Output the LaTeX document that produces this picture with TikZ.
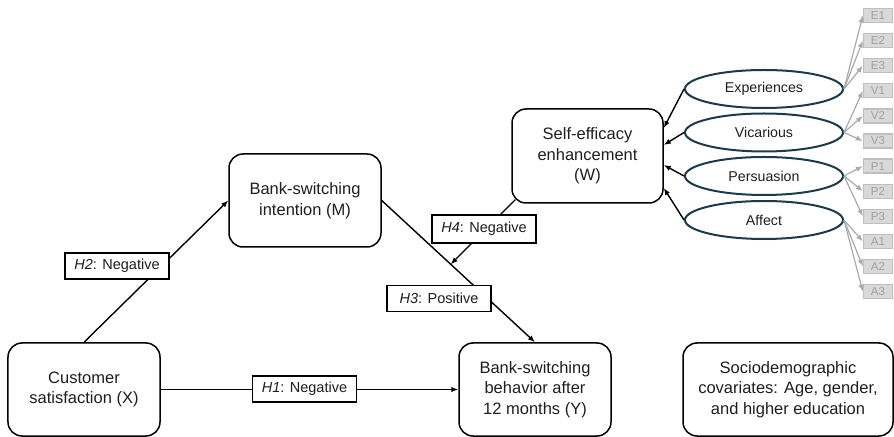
\documentclass[tikz,border=0pt]{standalone}
\usepackage{fontspec}
\setmainfont{Liberation Sans}
\usetikzlibrary{arrows.meta,shapes.geometric,calc}
\definecolor{ellc}{RGB}{27,58,75}
\definecolor{indfill}{RGB}{217,217,217}
\definecolor{inddraw}{RGB}{191,191,191}
\definecolor{indtext}{RGB}{160,160,160}
\definecolor{indarrow}{RGB}{170,170,170}
\definecolor{txt}{RGB}{30,30,30}
\begin{document}
\begin{tikzpicture}[x=1bp,y=-1bp,
  mainbox/.style={draw, line width=1.5bp, rounded corners=14bp, minimum width=152bp, minimum height=93bp, align=center, text=txt, font=\fontsize{16.5bp}{20.5bp}\selectfont, inner sep=2bp},
  hyp/.style={draw, fill=white, line width=1.3bp, minimum width=104bp, minimum height=26bp, inner sep=1bp, text=txt, font=\fontsize{14.5bp}{16bp}\selectfont},
  lat/.style={ellipse, draw=ellc, line width=2bp, minimum width=158bp, minimum height=38bp, inner sep=0pt, text=txt, font=\fontsize{14.2bp}{16bp}\selectfont},
  ind/.style={draw=inddraw, fill=indfill, line width=1.3bp, minimum width=29bp, minimum height=14bp, inner sep=0pt, text=indtext, font=\fontsize{11.5bp}{12bp}\selectfont},
  arr/.style={-{Latex[length=7bp,width=5.5bp]}, line width=1.4bp},
  garr/.style={-{Latex[length=7bp,width=5.5bp]}, line width=1.2bp, draw=indarrow, color=indarrow},
]
\useasboundingbox (0,0) rectangle (894,437);

% main boxes
\node[mainbox] (X) at (84,389.5) {Customer\\satisfaction (X)};
\node[mainbox] (M) at (305,200.5) {Bank-switching\\intention (M)};
\node[mainbox] (Y) at (535,389.5) {Bank-switching\\behavior after\\12 months (Y)};
\node[mainbox, minimum width=151bp, minimum height=94bp] (W) at (587.5,156) {Self-efficacy\\enhancement\\(W)};
\node[mainbox, minimum width=210bp] (S) at (788,389.5) {Sociodemographic\\covariates: Age, gender,\\and higher education};

% latent ellipses
\node[lat] (Exp) at (764,89) {Experiences};
\node[lat] (Vic) at (764,132.5) {Vicarious};
\node[lat] (Per) at (764,176) {Persuasion};
\node[lat] (Aff) at (764,220) {Affect};

% indicators
\foreach \n [count=\i from 0] in {E1,E2,E3,V1,V2,V3,P1,P2,P3,A1,A2,A3}
  \node[ind] (\n) at (878,15.5+25.1*\i) {\n};

\foreach \n in {E1,E2,E3} \draw[garr] (Exp.east) -- (\n.west);
\foreach \n in {V1,V2,V3} \draw[garr] (Vic.east) -- (\n.west);
\foreach \n in {P1,P2,P3} \draw[garr] (Per.east) -- (\n.west);
\foreach \n in {A1,A2,A3} \draw[garr] (Aff.east) -- (\n.west);

% latent -> W
\draw[arr] (Exp.west) -- ($(W.east)+(0,-28)$);
\draw[arr] (Vic.west) -- ($(W.east)+(0,-11)$);
\draw[arr] (Per.west) -- ($(W.east)+(0,9)$);
\draw[arr] (Aff.west) -- ($(W.east)+(0,32)$);

% structural paths
\draw[arr] (X.north) -- (M.west);
\draw[arr] (X.east) -- (Y.west);
\draw[arr] (M.east) -- (Y.north);
\coordinate (h4s) at ($(W.south west)+(4,-4)$);
\coordinate (h4e) at ($(M.east)!0.45!(Y.north)$);
\draw[arr] (h4s) -- (h4e);

% hypothesis labels
\node[hyp] (H2) at (117,266) {\textit{H2}: Negative};
\node[hyp] (H1) at (304.5,389) {\textit{H1}: Negative};
\node[hyp] (H3) at (439,298.5) {\textit{H3}: Positive};
\node[hyp, minimum height=28bp] (H4) at (484,229) {\textit{H4}: Negative};
\end{tikzpicture}
\end{document}
